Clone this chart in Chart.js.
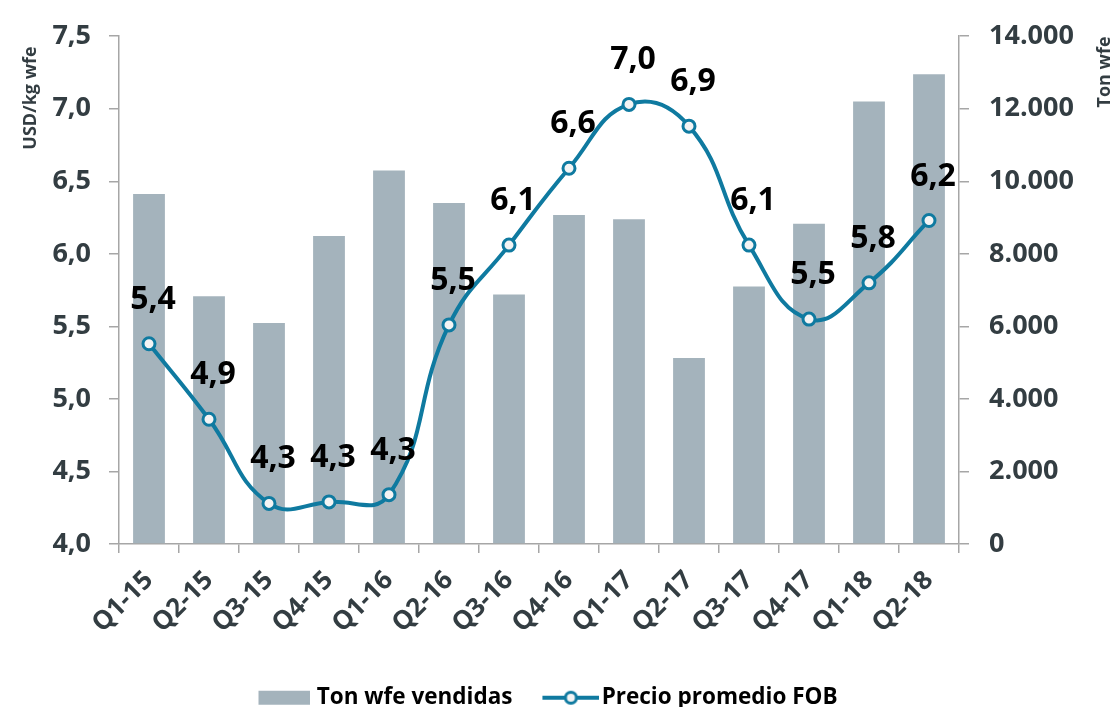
<!DOCTYPE html>
<html>
<head>
<meta charset="utf-8">
<script src="https://cdn.jsdelivr.net/npm/chart.js@4"></script>
<style>
  html, body { margin: 0; padding: 0; background: #ffffff; }
  #wrap { width: 1119px; height: 707px; }
</style>
</head>
<body>
<div id="wrap"><canvas id="myChart" width="1119" height="707"></canvas></div>
<script>
const quarters = ['Q1-15', 'Q2-15', 'Q3-15', 'Q4-15', 'Q1-16', 'Q2-16', 'Q3-16',
                  'Q4-16', 'Q1-17', 'Q2-17', 'Q3-17', 'Q4-17', 'Q1-18', 'Q2-18'];
// Ton wfe vendidas (eje derecho)
const tonVendidas = [9650, 6830, 6090, 8490, 10300, 9400, 6880,
                     9070, 8950, 5130, 7100, 8830, 12200, 12950];
// Precio promedio FOB, USD/kg wfe (eje izquierdo)
const precioFOB = [5.38, 4.86, 4.28, 4.29, 4.34, 5.51, 6.06,
                   6.59, 7.03, 6.88, 6.06, 5.55, 5.80, 6.23];

const leftTicks = [4.0, 4.5, 5.0, 5.5, 6.0, 6.5, 7.0, 7.5];
const rightTicks = [0, 2000, 4000, 6000, 8000, 10000, 12000, 14000];

const barColor = '#a4b3bc';
const lineColor = '#0f7aa0';
const tickColor = '#333d42';
const axisColor = '#a6a6a6';
const fontName = "'Open Sans', 'Noto Sans', sans-serif";

function comma(v, d) {
    return v.toFixed(d).replace('.', ',');
}

function miles(v) {
    return String(v).replace(/\B(?=(\d{3})+(?!\d))/g, '.');
}

// little images for the legend
function legendRect() {
    const c = document.createElement('canvas');
    c.width = 82; c.height = 16;
    const g = c.getContext('2d');
    g.fillStyle = barColor;
    g.fillRect(30, 1, 52, 14);
    return c;
}

function legendLine() {
    const c = document.createElement('canvas');
    c.width = 90; c.height = 18;
    const g = c.getContext('2d');
    g.strokeStyle = lineColor;
    g.lineWidth = 4;
    g.beginPath();
    g.moveTo(33, 9); g.lineTo(90, 9);
    g.stroke();
    g.beginPath();
    g.arc(61.5, 9, 5.5, 0, Math.PI * 2);
    g.fillStyle = '#f4f4f4';
    g.fill();
    g.lineWidth = 3;
    g.stroke();
    return c;
}

const pointLabels = {
    id: 'pointLabels',
    afterDatasetsDraw(chart) {
        const ctx = chart.ctx;
        const meta = chart.getDatasetMeta(1);
        ctx.save();
        ctx.font = 'bold 32px ' + fontName;
        ctx.fillStyle = '#000000';
        ctx.textAlign = 'center';
        ctx.textBaseline = 'middle';
        meta.data.forEach(function (pt, i) {
            ctx.fillText(comma(precioFOB[i], 1), pt.x + 4, pt.y - 44);
        });
        ctx.restore();
    }
};

const axisTitles = {
    id: 'axisTitles',
    afterDraw(chart) {
        const ctx = chart.ctx;
        ctx.save();
        ctx.font = 'bold 18px ' + fontName;
        ctx.fillStyle = tickColor;
        ctx.textAlign = 'center';
        ctx.textBaseline = 'middle';
        ctx.translate(31, 98);
        ctx.rotate(-Math.PI / 2);
        ctx.fillText('USD/kg wfe', 0, 0);
        ctx.restore();
        ctx.save();
        ctx.font = 'bold 18px ' + fontName;
        ctx.fillStyle = tickColor;
        ctx.textAlign = 'center';
        ctx.textBaseline = 'middle';
        ctx.translate(1105, 72);
        ctx.rotate(-Math.PI / 2);
        ctx.fillText('Ton wfe', 0, 0);
        ctx.restore();
    }
};

// nudge the legend a little left and down, as in the original
const legendNudge = {
    id: 'legendNudge',
    afterLayout(chart) {
        const leg = chart.legend;
        if (!leg) return;
        leg.left -= 24; leg.right -= 24;
        leg.top += 12; leg.bottom += 12;
    }
};

const ctx = document.getElementById('myChart').getContext('2d');

new Chart(ctx, {
    type: 'bar',
    data: {
        labels: quarters,
        datasets: [
            {
                type: 'bar',
                label: 'Ton wfe vendidas',
                data: tonVendidas,
                yAxisID: 'y2',
                backgroundColor: barColor,
                barPercentage: 0.53,
                categoryPercentage: 1.0,
                order: 2
            },
            {
                type: 'line',
                label: 'Precio promedio FOB',
                data: precioFOB,
                yAxisID: 'y',
                borderColor: lineColor,
                borderWidth: 4,
                tension: 0.45,
                pointRadius: 6,
                pointBorderWidth: 3,
                pointBackgroundColor: '#f4f4f4',
                pointBorderColor: lineColor,
                fill: false,
                order: 1
            }
        ]
    },
    options: {
        responsive: false,
        animation: false,
        devicePixelRatio: 1,
        layout: {
            padding: { top: 25, left: 0, right: 0, bottom: 0 }
        },
        plugins: {
            tooltip: { enabled: false },
            legend: {
                position: 'bottom',
                labels: {
                    usePointStyle: true,
                    pointStyleWidth: 72,
                    boxHeight: 16,
                    padding: 6,
                    color: '#000000',
                    font: { family: fontName, size: 22.5, weight: 'bold' },
                    generateLabels: function () {
                        return [
                            { text: 'Ton wfe vendidas', pointStyle: legendRect(), fontColor: '#000000', lineWidth: 0, datasetIndex: 0 },
                            { text: 'Precio promedio FOB', pointStyle: legendLine(), fontColor: '#000000', lineWidth: 0, datasetIndex: 1 }
                        ];
                    }
                }
            }
        },
        scales: {
            x: {
                offset: true,
                grid: {
                    offset: true,
                    drawOnChartArea: false,
                    drawTicks: true,
                    tickLength: 9,
                    color: axisColor,
                    lineWidth: 1.5
                },
                border: { color: axisColor, width: 1.5 },
                ticks: {
                    color: tickColor,
                    font: { family: fontName, size: 26, weight: 'bold' },
                    maxRotation: 45,
                    minRotation: 45,
                    padding: 12,
                    autoSkip: false
                },
                afterFit: function (scale) {
                    const leg = scale.chart.legend ? scale.chart.legend.height : 0;
                    scale.height = 707 - 544 - leg;
                }
            },
            y: {
                position: 'left',
                min: 4,
                max: 7.5,
                afterBuildTicks: function (scale) {
                    scale.ticks = leftTicks.map(v => ({ value: v }));
                },
                grid: {
                    drawOnChartArea: false,
                    tickLength: 10,
                    color: axisColor,
                    lineWidth: 1.5
                },
                border: { color: axisColor, width: 1.5 },
                ticks: {
                    color: tickColor,
                    padding: 18,
                    font: { family: fontName, size: 27, weight: 'bold' },
                    callback: v => comma(v, 1)
                },
                afterFit: function (scale) {
                    scale.width = 119;
                }
            },
            y2: {
                position: 'right',
                min: 0,
                max: 14000,
                afterBuildTicks: function (scale) {
                    scale.ticks = rightTicks.map(v => ({ value: v }));
                },
                grid: {
                    drawOnChartArea: false,
                    tickLength: 10,
                    color: axisColor,
                    lineWidth: 1.5
                },
                border: { color: axisColor, width: 1.5 },
                ticks: {
                    color: tickColor,
                    padding: 20,
                    font: { family: fontName, size: 27, weight: 'bold' },
                    callback: v => miles(v)
                },
                afterFit: function (scale) {
                    scale.width = 160;
                }
            }
        }
    },
    plugins: [pointLabels, axisTitles, legendNudge]
});
</script>
</body>
</html>
